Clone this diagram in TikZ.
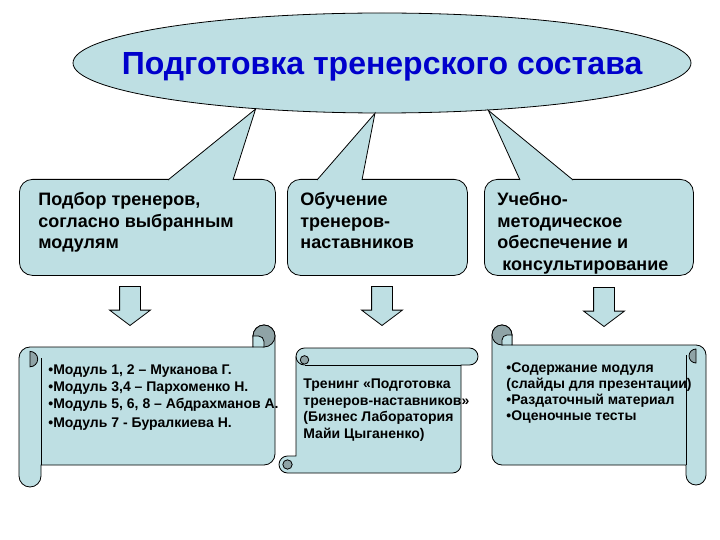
\documentclass[tikz,border=0pt]{standalone}
\usepackage{fontspec}
\setmainfont{Liberation Sans}
\usetikzlibrary{shapes.geometric, shapes.arrows, positioning}
\definecolor{pale}   {HTML}{BEDFE3}
\definecolor{curl}   {HTML}{8FA3A6}
\definecolor{heading}{HTML}{0000CC}

\tikzset{
  bubble/.style={draw, fill=pale, rounded corners=13pt, minimum height=96pt, inner sep=0pt, anchor=north west},
  wedge/.style={draw, fill=pale},
  bubbletext/.style={inner sep=0pt, align=left, font=\fontsize{18}{21.5}\selectfont\bfseries},
  scrolltext/.style={inner sep=0pt, align=left, anchor=north west, font=\fontsize{14}{17}\selectfont\bfseries},
  scrollbody/.style={draw, fill=pale},
  scrollcurl/.style={draw, fill=curl},
  downarrow/.style={single arrow, draw, fill=pale, minimum height=39pt, inner xsep=0pt, inner ysep=10pt,
    single arrow head extend=10pt, single arrow tip angle=106, rotate=-90, anchor=tip}
}

% vertical scroll: [scope options]{width}{height}{roll radius}
\newcommand{\vscroll}[4][]{%
  \begin{scope}[#1]
    \filldraw[scrollbody] (0,{3*#4}) arc[start angle=180, end angle=270, radius=#4]
      -- ({#2-2*#4},{2*#4}) -- ({#2-2*#4},#4) arc[start angle=180, end angle=360, radius=#4]
      -- (#2,{#3-3*#4}) arc[start angle=0, end angle=90, radius=#4]
      -- ({2*#4},{#3-2*#4}) -- ({2*#4},{#3-#4}) arc[start angle=0, end angle=180, radius=#4]
      -- cycle;
    \draw ({2*#4},{3*#4}) -- ({2*#4},{#3-2*#4});
    \filldraw[scrollcurl] (#4,{2.4*#4}) arc[start angle=270, end angle=450, radius={0.7*#4}] -- cycle;
    \filldraw[scrollcurl] ({#2-#4},#4) circle[radius=#4];
    \filldraw[scrollbody] ({#2-2*#4},#4) -- ({#2-2*#4},{2*#4}) -- ({#2-#4},{2*#4}) -- ({#2-#4},{1.5*#4})
      arc[start angle=0, end angle=-90, radius={0.5*#4}] -- cycle;
  \end{scope}}

% horizontal scroll: [scope options]{width}{height}{roll radius}
\newcommand{\hscroll}[4][]{%
  \begin{scope}[#1]
    \filldraw[scrollbody] ({2*#4},#4) arc[start angle=180, end angle=270, radius=#4]
      -- ({#2-#4},0) arc[start angle=270, end angle=450, radius=#4]
      -- ({#2-2*#4},{2*#4}) -- ({#2-2*#4},{#3-#4}) arc[start angle=0, end angle=90, radius=#4]
      -- (#4,#3) arc[start angle=90, end angle=270, radius=#4]
      -- ({2*#4},{#3-2*#4}) -- cycle;
    \draw ({3*#4},{2*#4}) -- ({#2-2*#4},{2*#4});
    \draw ({2*#4},#4) arc[start angle=180, end angle=90, radius=#4];
    \filldraw[scrollcurl] ({3*#4},{1.4*#4}) circle[radius={0.5*#4}];
    \filldraw[scrollcurl] (#4,{#3-#4}) circle[radius={0.55*#4}];
  \end{scope}}

\begin{document}
\begin{tikzpicture}[x=1pt, y=-1pt, line width=0.8pt]
  \useasboundingbox (0,0) rectangle (720,540);

  % heading
  \node[ellipse, draw, fill=pale, minimum width=618pt, minimum height=100pt, inner sep=0pt] (title) at (382,63) {};
  \node[anchor=base, inner sep=0pt, text=heading, font=\fontsize{32}{38}\selectfont\bfseries] (titleText) at (382,75)
    {Подготовка тренерского состава};

  % callouts
  \node[bubble, minimum width=256pt] (pick)   at (19,179)  {};
  \node[bubble, minimum width=180pt] (teach)  at (287,179) {};
  \node[bubble, minimum width=209pt] (method) at (484,179) {};
  \filldraw[wedge] ([xshift=149pt, yshift=-1pt]pick.north west)  -- (title.200) -- ([xshift=214pt, yshift=-1pt]pick.north west);
  \filldraw[wedge] ([xshift=30pt,  yshift=-1pt]teach.north west) -- (title.262) -- ([xshift=75pt,  yshift=-1pt]teach.north west);
  \filldraw[wedge] ([xshift=36pt,  yshift=-1pt]method.north west) -- (title.336) -- ([xshift=89pt, yshift=-1pt]method.north west);

  \node[bubbletext, below right=13pt and 19pt of pick.north west] (pickText)
    {Подбор тренеров,\\согласно выбранным\\модулям};
  \node[bubbletext, below right=13pt and 13pt of teach.north west] (teachText)
    {Обучение\\тренеров-\\наставников};
  \node[bubbletext, below right=13pt and 13pt of method.north west] (methodText)
    {Учебно-\\методическое\\обеспечение и\\\hspace*{5pt}консультирование};

  % arrows
  \node[downarrow] (arrPick)   at (130,326) {};
  \node[downarrow] (arrTeach)  at (382,326) {};
  \node[downarrow] (arrMethod) at (604,327) {};

  % scrolls
  \vscroll[shift={(19,325)}]{256}{162}{11}
  \hscroll[shift={(279,348)}]{199}{125}{8.5}
  \vscroll[shift={(706,325)}, xscale=-1]{214}{160}{10}

  \node[scrolltext] (mods) at (48,364.5)
    {•Модуль 1, 2 – Муканова Г.\\•Модуль 3,4 – Пархоменко Н.\\•Модуль 5, 6, 8 – Абдрахманов А.\\[2pt]•Модуль 7 - Буралкиева Н.};
  \node[scrolltext, font=\fontsize{14}{16.5}\selectfont\bfseries] (course) at (303,378.5)
    {Тренинг «Подготовка\\тренеров-наставников»\\(Бизнес Лаборатория\\Майи Цыганенко)};
  \node[scrolltext, font=\fontsize{14}{16}\selectfont\bfseries] (kit) at (506,362)
    {•Содержание модуля\\(слайды для презентации)\\•Раздаточный материал\\•Оценочные тесты};
\end{tikzpicture}
\end{document}
